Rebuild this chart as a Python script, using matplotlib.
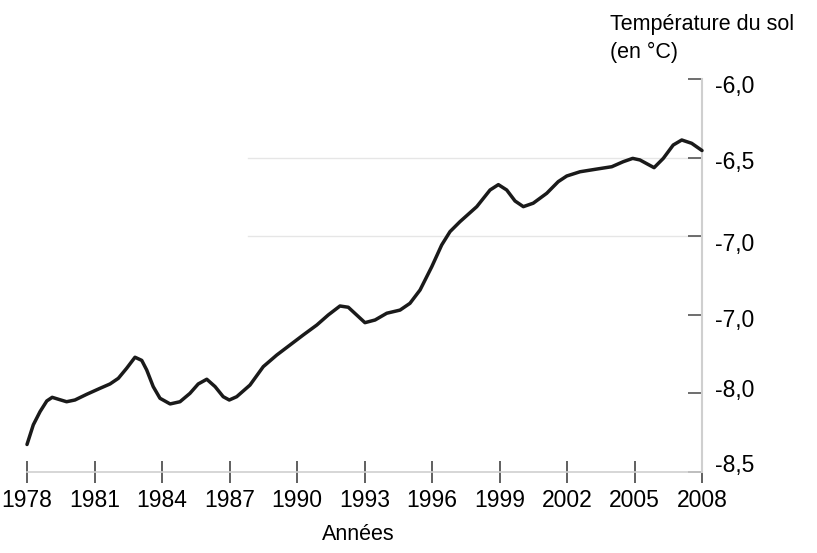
import numpy as np
import matplotlib.pyplot as plt
from matplotlib.transforms import ScaledTranslation

plt.rcParams['font.family'] = ['Liberation Sans', 'DejaVu Sans']

# valeurs (points relevés le long de la courbe)
annees = [1978.0, 1978.28, 1978.58, 1978.88, 1979.12, 1979.39, 1979.76, 1980.13,
          1980.65, 1981.24, 1981.69, 1982.06, 1982.43, 1982.8, 1983.1, 1983.32,
          1983.61, 1983.91, 1984.36, 1984.8, 1985.24, 1985.61, 1985.99, 1986.36,
          1986.72, 1986.99, 1987.32, 1987.91, 1988.5, 1989.1, 1989.69, 1990.28,
          1990.88, 1991.39, 1991.91, 1992.28, 1992.65, 1993.02, 1993.47, 1993.99,
          1994.58, 1995.02, 1995.47, 1995.99, 1996.43, 1996.8, 1997.24, 1997.99,
          1998.58, 1998.95, 1999.32, 1999.69, 2000.06, 2000.5, 2001.1, 2001.61,
          2001.99, 2002.58, 2003.32, 2003.99, 2004.5, 2004.92, 2005.24, 2005.87,
          2006.28, 2006.72, 2007.1, 2007.54, 2008.0]
temperature = [-8.325, -8.20, -8.116, -8.048, -8.025, -8.037, -8.053, -8.042,
               -8.006, -7.968, -7.940, -7.904, -7.840, -7.770, -7.790, -7.851,
               -7.957, -8.031, -8.067, -8.053, -8.0, -7.94, -7.91, -7.957,
               -8.021, -8.042, -8.021, -7.947, -7.83, -7.756, -7.692, -7.628,
               -7.565, -7.501, -7.444, -7.452, -7.501, -7.55, -7.533, -7.49,
               -7.47, -7.427, -7.342, -7.194, -7.056, -6.971, -6.908, -6.812,
               -6.706, -6.672, -6.706, -6.776, -6.812, -6.79, -6.727, -6.653,
               -6.617, -6.59, -6.573, -6.558, -6.526, -6.505, -6.515, -6.564,
               -6.505, -6.42, -6.388, -6.409, -6.455]

x_ticks = list(range(1978, 2009, 3))
y_ticks = [-6.0, -6.5, -7.0, -7.5, -8.0, -8.5]
y_labels = ['-6,0', '-6,5', '-7,0', '-7,0', '-8,0', '-8,5']


def plot_graph():
    fig = plt.figure(figsize=(8.17, 5.53), dpi=100)
    ax = fig.add_axes([27 / 817, 1 - 472 / 553, 675 / 817, 393 / 553])

    # lignes de repère
    for v in (-6.5, -7.0):
        ax.axhline(v, xmin=0.327, xmax=1.0, color='#e6e6e6', lw=1.0, zorder=0)

    ax.plot(annees, temperature, color='#1a1a1a', lw=2.5,
            solid_joinstyle='round', solid_capstyle='round', clip_on=False, zorder=3)

    ax.set_xlim(1978, 2008)
    ax.set_ylim(-8.5, -6.0)

    for s in ('top', 'left'):
        ax.spines[s].set_visible(False)
    ax.spines['bottom'].set_color('#cfcfcf')
    ax.spines['right'].set_color('#cfcfcf')
    ax.spines['bottom'].set_linewidth(1.2)
    ax.spines['right'].set_linewidth(1.5)

    ax.set_xticks(x_ticks)
    ax.set_xticklabels([str(a) for a in x_ticks])
    ax.tick_params(axis='x', direction='inout', length=16, width=1.2, color='#444444',
                   labelsize=16.5, pad=4)

    ax.yaxis.tick_right()
    ax.set_yticks(y_ticks)
    ax.set_yticklabels(y_labels)
    ax.tick_params(axis='y', direction='in', length=10, width=1.2, color='#555555',
                   labelsize=16.5, pad=9)

    # petits décalages des étiquettes comme sur l'original
    shifts = [-5, -2, -6, -3, 5, 9]
    for lab, dy in zip(ax.get_yticklabels(), shifts):
        lab.set_transform(lab.get_transform() + ScaledTranslation(0, dy / 100, fig.dpi_scale_trans))

    fig.text(610 / 817, 1 - 14 / 553, "Température du sol\n(en °C)", fontsize=15.5,
             ha='left', va='top', linespacing=1.45)
    fig.text(358 / 817, 1 - 535 / 553, "Années", fontsize=15.5, ha='center', va='center')

    fig.savefig('out.png', dpi=100)


plot_graph()
